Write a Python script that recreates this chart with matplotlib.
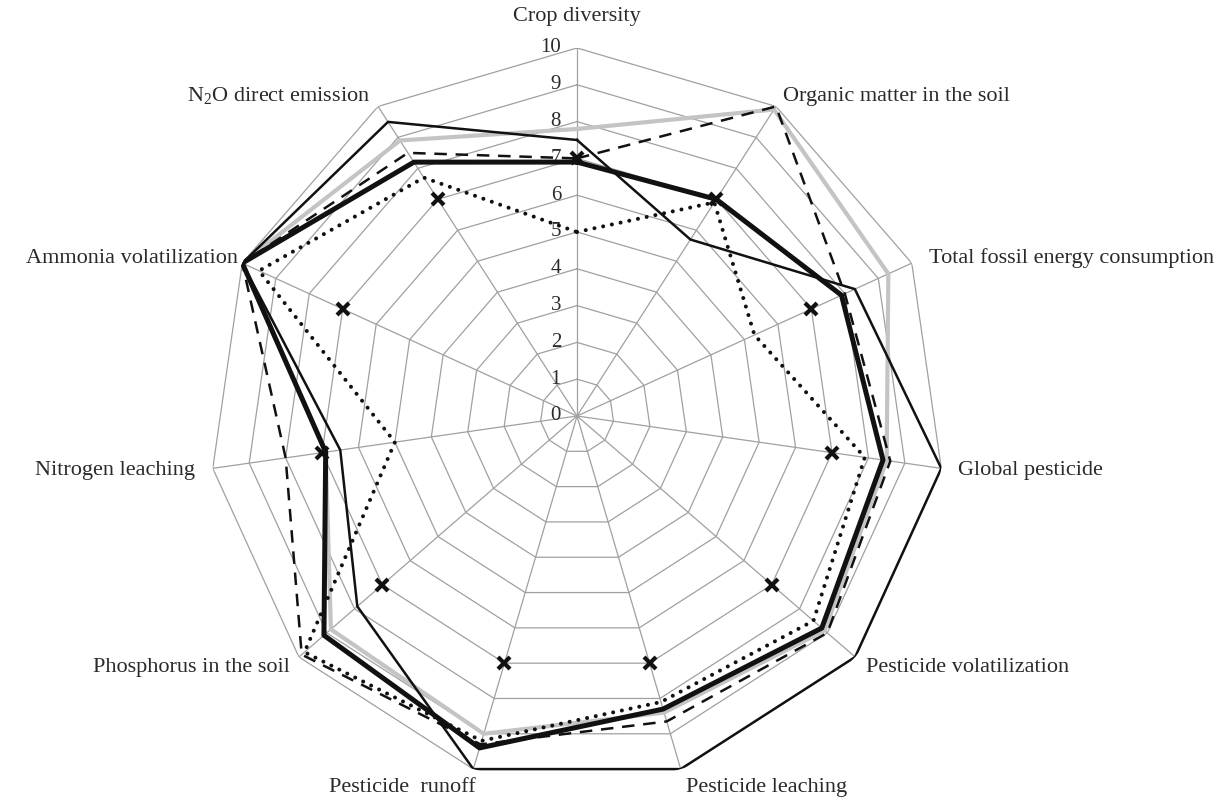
import numpy as np
import matplotlib.pyplot as plt

plt.rcParams['font.family'] = ['Liberation Serif', 'DejaVu Serif']
plt.rcParams['mathtext.fontset'] = 'custom'
plt.rcParams['mathtext.rm'] = 'Liberation Serif'

# Data
categories = ['Crop diversity', 'Organic matter in the soil', 'Total fossil energy consumption',
              'Global pesticide', 'Pesticide volatilization', 'Pesticide leaching',
              'Pesticide  runoff', 'Phosphorus in the soil', 'Nitrogen leaching',
              'Ammonia volatilization', r'N$_\mathrm{2}$O direct emission']

thin_solid = [7.5, 5.7, 8.3, 10, 10, 10, 10, 7.9, 6.5, 10, 9.5]
thick_solid = [6.9, 7.0, 7.9, 8.4, 8.8, 8.3, 9.4, 9.1, 6.9, 10, 8.2]
grey_solid = [7.8, 9.9, 9.3, 8.5, 8.9, 8.4, 9.0, 8.85, 6.9, 10, 8.9]
dashed = [7.0, 10, 8.0, 8.6, 9.0, 8.65, 9.3, 9.9, 8.0, 10, 8.5]
dotted = [5.0, 6.9, 5.3, 7.9, 8.5, 8.1, 9.2, 9.8, 5.0, 9.5, 7.7]
threshold = [7] * 11

ring_ticks = list(range(0, 11))

# label placement: (offset x px, offset y px, ha, va)
label_layout = [(0, 31, 'center', 'center'), (7, 10, 'left', 'center'), (17, 5, 'left', 'center'),
                (17, -2, 'left', 'center'), (11, -11, 'left', 'center'), (5, -18, 'left', 'center'),
                (2, -18, 'right', 'center'), (-9, -11, 'right', 'center'), (-18, -2, 'right', 'center'),
                (-4, 5, 'right', 'center'), (-8, 10, 'right', 'center')]

n = len(categories)
angles = np.arange(n) * 2 * np.pi / n


def closed(vals):
    v = list(vals)
    return np.append(angles, angles[0]), v + v[:1]


fig = plt.figure(figsize=(12.31, 8), dpi=100)
ax = fig.add_axes([0.1698, 0.02, 0.5979, 0.92], projection='polar')
ax.set_theta_zero_location('N')
ax.set_theta_direction(-1)
ax.set_ylim(0, 10)
ax.grid(False)
ax.spines['polar'].set_visible(False)
ax.set_xticks([])
ax.set_yticks([])
ax.patch.set_visible(False)

grid_col = '#a0a0a0'
for r in ring_ticks[1:]:
    t, rr = closed([r] * n)
    ax.plot(t, rr, color=grid_col, lw=0.9, zorder=1)
for a in angles:
    ax.plot([a, a], [0, 10], color=grid_col, lw=0.9, zorder=1)

for r in ring_ticks:
    ax.annotate(str(r), xy=(0, r), xytext=(-16, 0), textcoords='offset pixels',
                ha='right', va='center', fontsize=15, color='#2a2a2a')

for a, lab, (dx, dy, ha, va) in zip(angles, categories, label_layout):
    ax.annotate(lab, xy=(a, 10), xytext=(dx, dy), textcoords='offset pixels',
                ha=ha, va=va, fontsize=16, color='#2a2a2a', annotation_clip=False)

t, v = closed(grey_solid)
ax.plot(t, v, color='#c4c4c4', lw=3.0, zorder=3)
t, v = closed(dashed)
ax.plot(t, v, color='#111111', lw=1.8, dashes=(5, 3.5), zorder=4)
t, v = closed(dotted)
ax.plot(t, v, color='#111111', lw=2.9, linestyle=(0, (0.01, 2.2)), dash_capstyle='round', zorder=4)
t, v = closed(thick_solid)
ax.plot(t, v, color='#111111', lw=3.6, zorder=5)
t, v = closed(thin_solid)
ax.plot(t, v, color='#111111', lw=1.8, zorder=6)
ax.plot(angles, threshold, linestyle='none', marker='x', ms=9, mew=3, color='#111111', zorder=7)

plt.savefig('out.png', dpi=100)
